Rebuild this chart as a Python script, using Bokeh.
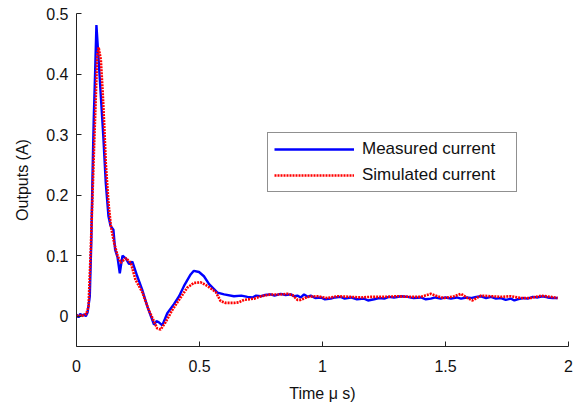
from bokeh.plotting import figure
from bokeh.models import Range1d, FixedTicker, Legend, LegendItem
from bokeh.embed import file_html
from bokeh.resources import INLINE

# Measured current (A) vs time (us)
meas_t = [0.000, 0.008, 0.015, 0.022, 0.030, 0.038, 0.045, 0.054, 0.060, 0.065,
          0.070, 0.076, 0.081, 0.090, 0.099, 0.109, 0.119, 0.130, 0.138, 0.144,
          0.150, 0.157, 0.167, 0.176, 0.187, 0.201, 0.214, 0.227, 0.247, 0.267,
          0.288, 0.315, 0.325, 0.335, 0.349, 0.369, 0.396, 0.417, 0.437, 0.464,
          0.477, 0.498, 0.518, 0.539, 0.573, 0.600, 0.640, 0.670, 0.695,
          0.715, 0.730, 0.749, 0.765, 0.789, 0.805, 0.830, 0.850, 0.871, 0.885,
          0.898, 0.912, 0.925, 0.940, 0.952, 0.970, 0.993, 1.010, 1.034, 1.050,
          1.074, 1.090, 1.115, 1.140, 1.169, 1.185, 1.210, 1.230, 1.251, 1.270,
          1.291, 1.320, 1.346, 1.370, 1.400, 1.420, 1.440, 1.460, 1.481, 1.500,
          1.522, 1.545, 1.563, 1.585, 1.603, 1.625, 1.644, 1.665, 1.685, 1.705,
          1.725, 1.745, 1.766, 1.780, 1.793, 1.815, 1.834, 1.855, 1.875, 1.895,
          1.915, 1.935, 1.956]
meas_i = [0.003, -0.002, 0.004, 0.001, 0.003, 0.000, 0.006, 0.033, 0.121, 0.231,
          0.324, 0.407, 0.481, 0.423, 0.363, 0.297, 0.220, 0.165, 0.150, 0.146,
          0.143, 0.110, 0.097, 0.071, 0.100, 0.095, 0.086, 0.090, 0.066, 0.044,
          0.016, -0.014, -0.008, -0.010, -0.015, 0.005, 0.020, 0.033, 0.050, 0.069,
          0.075, 0.073, 0.066, 0.053, 0.039, 0.036, 0.033, 0.034, 0.032,
          0.031, 0.034, 0.033, 0.035, 0.036, 0.034, 0.037, 0.035, 0.036, 0.033,
          0.034, 0.031, 0.036, 0.032, 0.034, 0.030, 0.031, 0.028, 0.029, 0.031,
          0.032, 0.029, 0.031, 0.028, 0.029, 0.026, 0.028, 0.030, 0.029, 0.032,
          0.031, 0.033, 0.032, 0.030, 0.031, 0.028, 0.029, 0.031, 0.029, 0.031,
          0.029, 0.031, 0.029, 0.031, 0.030, 0.032, 0.033, 0.030, 0.032, 0.029,
          0.030, 0.027, 0.029, 0.026, 0.028, 0.030, 0.029, 0.032, 0.031, 0.033,
          0.031, 0.030, 0.030]

# Simulated current (A) vs time (us)
sim_t = [0.000, 0.010, 0.020, 0.030, 0.040, 0.049, 0.058, 0.065, 0.072, 0.079,
         0.084, 0.090, 0.099, 0.106, 0.113, 0.119, 0.130, 0.140, 0.153, 0.167,
         0.180, 0.190, 0.201, 0.221, 0.240, 0.267, 0.294, 0.328, 0.342, 0.362,
         0.389, 0.417, 0.450, 0.477, 0.505, 0.532, 0.566, 0.586, 0.606, 0.640,
         0.660, 0.681, 0.722, 0.750, 0.790, 0.830, 0.857, 0.878, 0.898, 0.912,
         0.939, 0.979, 1.020, 1.061, 1.115, 1.156, 1.196, 1.251, 1.305, 1.359,
         1.400, 1.440, 1.467, 1.495, 1.535, 1.563, 1.590, 1.610, 1.644, 1.685,
         1.725, 1.766, 1.807, 1.848, 1.888, 1.929, 1.956]
sim_i = [0.000, 0.002, 0.000, 0.002, 0.004, 0.016, 0.110, 0.198, 0.286, 0.368,
         0.429, 0.444, 0.423, 0.374, 0.313, 0.253, 0.187, 0.148, 0.121, 0.100,
         0.088, 0.092, 0.096, 0.088, 0.060, 0.040, 0.010, -0.020, -0.022, -0.010,
         0.010, 0.027, 0.047, 0.055, 0.056, 0.050, 0.040, 0.025, 0.022, 0.022,
         0.023, 0.027, 0.029, 0.033, 0.036, 0.036, 0.037, 0.035, 0.027, 0.027,
         0.032, 0.033, 0.030, 0.033, 0.032, 0.031, 0.032, 0.032, 0.033, 0.032,
         0.032, 0.037, 0.033, 0.030, 0.033, 0.037, 0.030, 0.026, 0.034, 0.033,
         0.032, 0.033, 0.030, 0.030, 0.034, 0.032, 0.030]

x_ticks = [0, 0.5, 1, 1.5, 2]
x_tick_labels = ["0", "0.5", "1", "1.5", "2"]
y_ticks = [0, 0.1, 0.2, 0.3, 0.4, 0.5]
y_tick_labels = ["0", "0.1", "0.2", "0.3", "0.4", "0.5"]
series_names = ["Measured current", "Simulated current"]

FONT = "Liberation Sans"

p = figure(frame_width=492, frame_height=333,
           min_border_left=76, min_border_right=14, min_border_top=13, min_border_bottom=62,
           x_range=Range1d(0, 2), y_range=Range1d(-0.05, 0.5),
           output_backend="svg", toolbar_location=None,
           background_fill_color="white", border_fill_color="white")
p.outline_line_color = None
p.xgrid.visible = False
p.ygrid.visible = False

blue = p.line(meas_t, meas_i, line_color="#0000ff", line_width=2.4)
red = p.line(sim_t, sim_i, line_color="#ff0000", line_width=2.6, line_dash="2 1")

for ax in (p.xaxis[0], p.yaxis[0]):
    ax.axis_line_color = "#222222"
    ax.major_tick_line_color = "#222222"
    ax.major_tick_in = 5
    ax.major_tick_out = 0
    ax.minor_tick_line_color = None
    ax.major_label_text_font = FONT
    ax.major_label_text_font_size = "16px"
    ax.major_label_text_color = "#111111"
    ax.axis_label_text_font = FONT
    ax.axis_label_text_font_size = "16px"
    ax.axis_label_text_font_style = "normal"
    ax.axis_label_text_color = "#111111"

p.xaxis.ticker = FixedTicker(ticks=x_ticks)
p.xaxis.major_label_overrides = dict(zip(x_ticks, x_tick_labels))
p.yaxis.ticker = FixedTicker(ticks=y_ticks)
p.yaxis.major_label_overrides = dict(zip(y_ticks, y_tick_labels))
p.xaxis.axis_label = "Time \u03bc s)"
p.yaxis.axis_label = "Outputs (A)"
p.xaxis.major_label_standoff = 13
p.xaxis.axis_label_standoff = 10
p.yaxis.major_label_standoff = 8
p.yaxis.axis_label_standoff = 12

legend = Legend(items=[LegendItem(label=series_names[0], renderers=[blue]),
                       LegendItem(label=series_names[1], renderers=[red])],
                location=(191, 154))
legend.label_text_font = FONT
legend.label_text_font_size = "17px"
legend.label_text_color = "#111111"
legend.glyph_width = 80
legend.glyph_height = 20
legend.label_height = 20
legend.label_standoff = 8
legend.label_width = 148
legend.padding = 6
legend.spacing = 6
legend.margin = 0
legend.border_line_color = "#222222"
legend.border_line_width = 1
legend.background_fill_color = "white"
legend.background_fill_alpha = 1.0
p.add_layout(legend, "center")

open("out.html", "w").write(file_html(p, INLINE))
